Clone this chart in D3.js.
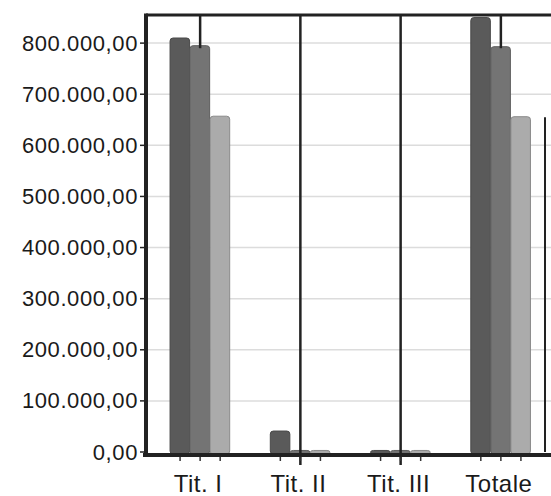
<!DOCTYPE html>
<html>
<head>
<meta charset="utf-8">
<script src="https://cdn.jsdelivr.net/npm/d3@7"></script>
<style>
  html, body { margin: 0; padding: 0; background: #fff; }
  svg { display: block; }
</style>
</head>
<body>
<svg id="chart" width="551" height="496"></svg>
<script>
// ---- data ----
const categories = ["Tit. I", "Tit. II", "Tit. III", "Totale"];
const seriesNames = ["Serie 1", "Serie 2", "Serie 3"];
const serie1 = [810000, 41000, 3000, 850000];
const serie2 = [795000, 3000, 3000, 793000];
const serie3 = [657000, 3000, 3000, 656000];
const yTicks = [0, 100000, 200000, 300000, 400000, 500000, 600000, 700000, 800000];
const yMax = 855000;

const seriesValues = [serie1, serie2, serie3];
const colors = ["#5a5a5a", "#747474", "#ababab"];

const svg = d3.select("#chart");
const pLeft = 146, pRight = 551, pTop = 15, pBottom = 452;

const x = d3.scaleBand().domain(categories).range([pLeft + 4, pRight]).paddingInner(0.4).paddingOuter(0.2);
const xs = d3.scaleBand().domain(seriesNames).range([0, x.bandwidth()]);
const y = d3.scaleLinear().domain([0, yMax]).range([pBottom, pTop]);

const fmt = v => {
  const s = d3.format(",.2f")(v);
  return s.replace(/,/g, "#").replace(".", ",").replace(/#/g, ".");
};

// gridlines
svg.append("g").selectAll("line").data(yTicks.filter(d => d > 0)).join("line")
  .attr("x1", pLeft).attr("x2", pRight)
  .attr("y1", d => y(d)).attr("y2", d => y(d))
  .attr("stroke", "#dcdcdc").attr("stroke-width", 1.5);

// bars
const groups = svg.append("g").selectAll("g").data(categories).join("g")
  .attr("transform", d => `translate(${x(d)},0)`);
groups.selectAll("rect").data((c, i) => seriesValues.map((s, k) => ({ k, v: s[i] }))).join("rect")
  .attr("x", d => xs(seriesNames[d.k]))
  .attr("width", xs.bandwidth() - 0.5)
  .attr("y", d => y(d.v))
  .attr("height", d => pBottom - y(d.v) + 2)
  .attr("rx", 3)
  .attr("fill", d => colors[d.k])
  .attr("stroke", d => d3.color(colors[d.k]).darker(0.6))
  .attr("stroke-width", 1);

// vertical category markers
const cx = c => x(c) + x.bandwidth() / 2;
const vlines = [
  { c: "Tit. I", y1: pTop, y2: y(790000) },
  { c: "Tit. II", y1: pTop, y2: pBottom + 13 },
  { c: "Tit. III", y1: pTop, y2: pBottom + 13 },
  { c: "Totale", y1: pTop, y2: y(790000) }
];
svg.append("g").selectAll("line").data(vlines).join("line")
  .attr("x1", d => cx(d.c)).attr("x2", d => cx(d.c))
  .attr("y1", d => d.y1).attr("y2", d => d.y2)
  .attr("stroke", "#222").attr("stroke-width", 2.5);

// right edge line
svg.append("line")
  .attr("x1", pRight - 6).attr("x2", pRight - 6)
  .attr("y1", y(655000)).attr("y2", pBottom)
  .attr("stroke", "#222").attr("stroke-width", 2);

// x small ticks under bars
const tickPos = [];
categories.forEach(c => seriesNames.forEach(s => tickPos.push(x(c) + xs(s) + xs.bandwidth() / 2)));
svg.append("g").selectAll("line").data(tickPos).join("line")
  .attr("x1", d => d).attr("x2", d => d)
  .attr("y1", pBottom + 3).attr("y2", pBottom + 9)
  .attr("stroke", "#333").attr("stroke-width", 1.5);

// frame: top, baseline, left axis
svg.append("line").attr("x1", pLeft).attr("x2", pRight).attr("y1", pTop).attr("y2", pTop)
  .attr("stroke", "#222").attr("stroke-width", 3);
svg.append("line").attr("x1", pLeft - 3).attr("x2", pRight).attr("y1", pBottom + 3).attr("y2", pBottom + 3)
  .attr("stroke", "#222").attr("stroke-width", 4);
svg.append("line").attr("x1", pLeft).attr("x2", pLeft).attr("y1", pTop - 1.5).attr("y2", pBottom + 5)
  .attr("stroke", "#222").attr("stroke-width", 4);

// y axis ticks & labels
const yAxis = svg.append("g");
yAxis.selectAll("line").data(yTicks).join("line")
  .attr("x1", pLeft - 6).attr("x2", pLeft)
  .attr("y1", d => y(d)).attr("y2", d => y(d))
  .attr("stroke", "#222").attr("stroke-width", 1.5);
yAxis.selectAll("text").data(yTicks).join("text")
  .attr("x", pLeft - 8).attr("y", d => y(d))
  .attr("text-anchor", "end").attr("dominant-baseline", "central")
  .attr("font-family", "Liberation Sans, Arial, sans-serif")
  .attr("font-size", 22).attr("letter-spacing", 0.6)
  .attr("fill", "#1a1a1a")
  .text(d => fmt(d));

// x labels
svg.append("g").selectAll("text").data(categories).join("text")
  .attr("x", d => cx(d) - 2).attr("y", 492)
  .attr("text-anchor", "middle")
  .attr("font-family", "Liberation Sans, Arial, sans-serif")
  .attr("font-size", 24).attr("letter-spacing", 0.5)
  .attr("fill", "#1a1a1a")
  .text(d => d);
</script>
</body>
</html>
